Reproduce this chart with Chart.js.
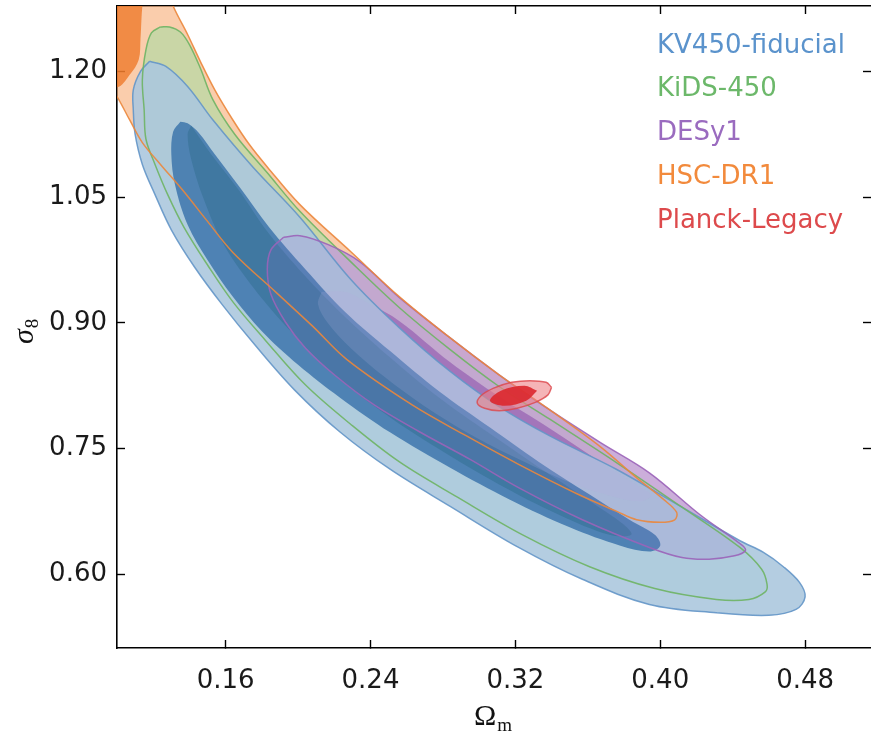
<!DOCTYPE html>
<html>
<head>
<meta charset="utf-8">
<script src="https://cdn.jsdelivr.net/npm/chart.js@4.4.0/dist/chart.umd.min.js"></script>
<style>
  html, body { margin: 0; padding: 0; background: #fff; overflow: hidden; }
  #wrap { width: 871px; height: 735px; }
</style>
</head>
<body>
<div id="wrap"><canvas id="chart-area" width="871" height="735"></canvas></div>
<script>
var xTicks = [0.16, 0.24, 0.32, 0.40, 0.48];
var yTicks = [0.60, 0.75, 0.90, 1.05, 1.20];
var surveys = ["KV450-fiducial", "KiDS-450", "DESy1", "HSC-DR1", "Planck-Legacy"];
var surveyColors = ["#5b93cc", "#6cb86a", "#9a6bbf", "#f28a3c", "#dd4a4c"];

// contour outlines, as [Omega_m, sigma_8]
var hscOuter = [[0.090,1.309],[0.126,1.309],[0.131,1.278],[0.139,1.244],[0.146,1.212],[0.154,1.178],[0.164,1.142],[0.173,1.113],[0.183,1.086],[0.201,1.041],[0.229,0.985],[0.256,0.931],[0.284,0.882],[0.311,0.838],[0.339,0.796],[0.367,0.752],[0.387,0.715],[0.402,0.689],[0.409,0.674],[0.408,0.665],[0.400,0.662],[0.387,0.665],[0.376,0.675],[0.354,0.696],[0.321,0.732],[0.293,0.765],[0.263,0.802],[0.227,0.856],[0.208,0.896],[0.188,0.936],[0.164,0.984],[0.150,1.021],[0.136,1.059],[0.124,1.089],[0.114,1.115],[0.107,1.142],[0.100,1.170],[0.090,1.202],[0.090,1.309]];
var hscInner = [[0.085,1.309],[0.116,1.309],[0.114,1.278],[0.113,1.240],[0.112,1.214],[0.107,1.196],[0.100,1.181],[0.085,1.190],[0.085,1.309]];

var kidsOuter = [[0.124,1.253],[0.129,1.253],[0.135,1.247],[0.140,1.232],[0.146,1.204],[0.153,1.166],[0.165,1.125],[0.183,1.079],[0.201,1.033],[0.229,0.973],[0.256,0.918],[0.284,0.868],[0.311,0.824],[0.339,0.785],[0.376,0.733],[0.412,0.680],[0.444,0.632],[0.456,0.606],[0.459,0.588],[0.458,0.579],[0.449,0.570],[0.431,0.570],[0.397,0.583],[0.361,0.609],[0.324,0.647],[0.288,0.692],[0.256,0.734],[0.229,0.779],[0.204,0.826],[0.182,0.879],[0.164,0.925],[0.150,0.969],[0.137,1.014],[0.128,1.053],[0.121,1.089],[0.116,1.119],[0.115,1.154],[0.114,1.190],[0.116,1.226],[0.119,1.246],[0.124,1.253]];
var kidsInner = [[0.141,1.135],[0.152,1.101],[0.167,1.059],[0.183,1.009],[0.203,0.958],[0.225,0.909],[0.250,0.860],[0.277,0.812],[0.305,0.769],[0.332,0.729],[0.360,0.689],[0.380,0.659],[0.384,0.647],[0.372,0.647],[0.344,0.671],[0.311,0.707],[0.278,0.749],[0.245,0.796],[0.217,0.844],[0.195,0.892],[0.176,0.940],[0.159,0.993],[0.148,1.047],[0.141,1.095],[0.139,1.125],[0.141,1.135]];

var kv450Outer = [[0.118,1.212],[0.113,1.200],[0.109,1.178],[0.109,1.154],[0.110,1.125],[0.114,1.089],[0.121,1.053],[0.130,1.011],[0.143,0.966],[0.158,0.922],[0.176,0.874],[0.198,0.820],[0.223,0.770],[0.251,0.725],[0.284,0.681],[0.321,0.633],[0.357,0.594],[0.394,0.564],[0.431,0.554],[0.460,0.551],[0.475,0.558],[0.480,0.573],[0.477,0.590],[0.468,0.609],[0.457,0.626],[0.444,0.640],[0.412,0.680],[0.376,0.725],[0.339,0.765],[0.311,0.800],[0.284,0.842],[0.256,0.894],[0.229,0.952],[0.201,1.026],[0.175,1.086],[0.153,1.142],[0.139,1.182],[0.127,1.206],[0.118,1.212]];
var kv450Inner = [[0.135,1.140],[0.131,1.128],[0.130,1.101],[0.132,1.065],[0.139,1.017],[0.150,0.975],[0.164,0.931],[0.180,0.890],[0.200,0.850],[0.223,0.811],[0.251,0.769],[0.284,0.727],[0.317,0.689],[0.350,0.656],[0.378,0.634],[0.394,0.627],[0.400,0.634],[0.397,0.647],[0.383,0.665],[0.361,0.695],[0.333,0.734],[0.306,0.775],[0.278,0.818],[0.251,0.866],[0.226,0.913],[0.204,0.964],[0.184,1.014],[0.168,1.061],[0.154,1.101],[0.145,1.127],[0.139,1.138],[0.135,1.140]];

var desOuter = [[0.192,1.002],[0.201,1.004],[0.217,0.993],[0.234,0.973],[0.256,0.930],[0.284,0.882],[0.311,0.838],[0.339,0.796],[0.367,0.757],[0.394,0.721],[0.422,0.671],[0.445,0.635],[0.447,0.628],[0.441,0.622],[0.427,0.618],[0.412,0.620],[0.394,0.632],[0.357,0.665],[0.322,0.703],[0.295,0.737],[0.267,0.770],[0.242,0.802],[0.220,0.838],[0.204,0.870],[0.193,0.901],[0.185,0.934],[0.183,0.964],[0.185,0.987],[0.192,1.002]];
var desInner = [[0.213,0.937],[0.226,0.937],[0.240,0.922],[0.256,0.902],[0.284,0.853],[0.311,0.812],[0.339,0.774],[0.367,0.734],[0.389,0.704],[0.395,0.694],[0.389,0.687],[0.375,0.692],[0.353,0.707],[0.328,0.731],[0.300,0.761],[0.273,0.796],[0.248,0.835],[0.229,0.870],[0.216,0.901],[0.211,0.922],[0.213,0.937]];

var planckOuter = [[0.340,0.823],[0.338,0.814],[0.331,0.805],[0.321,0.798],[0.311,0.795],[0.303,0.798],[0.299,0.804],[0.301,0.813],[0.308,0.822],[0.318,0.829],[0.328,0.831],[0.337,0.829],[0.340,0.823]];
var planckInner = [[0.332,0.819],[0.326,0.807],[0.314,0.801],[0.306,0.807],[0.312,0.819],[0.325,0.825],[0.332,0.819]];

function toXY(arr) {
  return arr.map(function (p) { return { x: p[0], y: p[1] }; });
}

// fill = null means outline only
function layer(label, pts, fill, line, width) {
  return {
    label: label,
    data: toXY(pts),
    showLine: true,
    pointRadius: 0,
    tension: 0.35,
    borderWidth: width || 0,
    borderColor: line || "rgba(0,0,0,0)",
    backgroundColor: fill || "rgba(0,0,0,0)",
    fill: fill ? "shape" : false,
  };
}

// bottom to top
var layers = [
  layer("HSC-DR1 2s", hscOuter, "rgba(243,145,70,0.45)"),
  layer("HSC-DR1 1s", hscInner, "rgba(238,120,40,0.78)"),
  layer("KiDS-450 2s", kidsOuter, "rgba(127,227,158,0.4)"),
  layer("DESy1 2s", desOuter, "rgba(205,170,215,0.85)"),
  layer("DESy1 1s", desInner, "rgba(150,90,170,0.9)"),
  layer("KV450 2s", kv450Outer, "rgba(172,200,222,0.9)"),
  layer("KV450 1s", kv450Inner, "rgba(45,105,165,0.75)"),
  layer("KiDS-450 1s", kidsInner, "rgba(30,95,120,0.3)"),
  layer("DESy1 2s tint", desOuter, "rgba(150,120,200,0.15)"),
  layer("DESy1 1s light", desInner, "rgba(215,210,240,0.15)"),
  layer("KV450 edge", kv450Outer, null, "rgba(100,150,200,0.9)", 1.5),
  layer("KiDS-450 edge", kidsOuter, null, "rgba(110,180,100,0.9)", 1.5),
  layer("DESy1 edge", desOuter, null, "rgba(155,100,185,0.9)", 1.5),
  layer("HSC-DR1 edge", hscOuter, null, "rgba(235,135,60,0.9)", 1.5),
  layer("Planck 2s", planckOuter, "rgba(238,130,135,0.6)", "rgba(220,70,75,0.8)", 1.5),
  layer("Planck 1s", planckInner, "rgba(220,40,45,0.9)"),
];
layers.forEach(function (d, i) { d.order = layers.length - i; });

var tickFont = { family: "'DejaVu Sans'", size: 26 };

function noPadding(s) {
  s.paddingTop = 0;
  s.paddingBottom = 0;
  s.paddingLeft = 0;
  s.paddingRight = 0;
}

function axisOpts(pos, min, max, tickList, showLabels, pad) {
  return {
    type: "linear",
    position: pos,
    min: min,
    max: max,
    afterBuildTicks: function (s) {
      s.ticks = tickList.map(function (v) { return { value: v }; });
    },
    border: { display: pos !== "right", color: "#000", width: 1.6 },
    grid: {
      drawOnChartArea: false,
      drawTicks: true,
      tickLength: -8,
      tickColor: "#000",
      tickWidth: 1.4,
    },
    ticks: {
      display: showLabels,
      font: tickFont,
      color: "#1a1a1a",
      padding: pad || 18,
      callback: function (v) { return Number(v).toFixed(2); },
    },
  };
}

var textPlugin = {
  id: "texts",
  afterDraw: function (chart) {
    var ctx = chart.ctx;
    var area = chart.chartArea;
    ctx.save();
    // legend, coloured text only
    ctx.font = "26px 'DejaVu Sans'";
    ctx.textAlign = "left";
    ctx.textBaseline = "middle";
    surveys.forEach(function (name, i) {
      ctx.fillStyle = surveyColors[i];
      ctx.fillText(name, area.left + 540, area.top + 40 + i * 43.7);
    });
    // x title: Omega_m
    ctx.fillStyle = "#111";
    ctx.textBaseline = "alphabetic";
    ctx.font = "30px 'Liberation Serif', 'DejaVu Serif', serif";
    var ox = 474;
    ctx.fillText("\u03A9", ox, 725);
    var w = ctx.measureText("\u03A9").width;
    ctx.font = "19px 'Liberation Serif', 'DejaVu Serif', serif";
    ctx.fillText("m", ox + w + 1, 731);
    // y title: sigma_8
    ctx.translate(33, 344);
    ctx.rotate(-Math.PI / 2);
    ctx.font = "italic 30px 'Liberation Serif', 'DejaVu Serif', serif";
    ctx.fillText("\u03C3", 0, 0);
    var ws = ctx.measureText("\u03C3").width;
    ctx.font = "19px 'Liberation Serif', 'DejaVu Serif', serif";
    ctx.fillText("8", ws + 1, 5);
    ctx.restore();
  },
};

var config = {
  type: "scatter",
  data: { datasets: layers },
  options: {
    responsive: false,
    animation: false,
    events: [],
    layout: { padding: 0 },
    elements: { line: { capBezierPoints: false } },
    plugins: {
      legend: { display: false },
      tooltip: { enabled: false },
      filler: { propagate: false },
    },
    scales: {
      x: Object.assign(axisOpts("bottom", 0.1, 0.5164, xTicks, true, 26), {
        afterFit: function (s) { s.height = 87; noPadding(s); },
      }),
      x2: Object.assign(axisOpts("top", 0.1, 0.5164, xTicks, false), {
        afterFit: function (s) { s.height = 6; noPadding(s); },
      }),
      y: Object.assign(axisOpts("left", 0.512, 1.278, yTicks, true), {
        afterFit: function (s) { s.width = 117; noPadding(s); },
      }),
      y2: Object.assign(axisOpts("right", 0.512, 1.278, yTicks, false), {
        afterFit: function (s) { s.width = 0; noPadding(s); },
      }),
    },
  },
  plugins: [textPlugin],
};

var ctx = document.getElementById("chart-area").getContext("2d");
window.chart = new Chart(ctx, config);
</script>
</body>
</html>
